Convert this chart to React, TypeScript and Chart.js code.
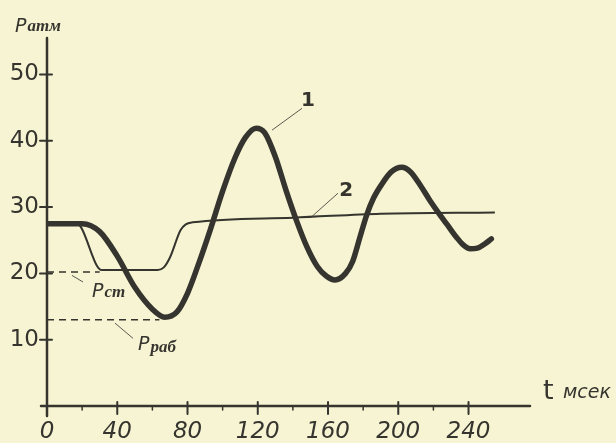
import React, { useEffect, useRef } from "react";
import { Chart, registerables } from "chart.js";

Chart.register(...registerables);

const INK = "#35342e";
const BG = "#f6f4d2";

// axis ticks
const xTicks = [0, 40, 80, 120, 160, 200, 240];
const xMinorTicks = [20, 60, 100, 140, 180, 220];
const yTicks = [10, 20, 30, 40, 50];

// curve 1 (thick) — t in ms, p in atm
const curve1T = [0, 20, 30, 40, 50, 60, 67, 74, 80, 86, 93, 100, 107, 113, 119, 124, 130, 136, 142, 148, 154, 159, 164, 170, 174, 178, 182, 186, 191, 196, 202, 207, 213, 218, 223, 228, 233, 237, 241, 245, 249, 253];
const curve1P = [27.5, 27.5, 26.3, 22.6, 17.9, 14.6, 13.4, 14.2, 17.0, 21.2, 26.6, 32.4, 37.4, 40.5, 41.9, 41.2, 37.6, 32.6, 28.0, 24.0, 21.0, 19.6, 19.0, 20.0, 21.8, 25.3, 28.8, 31.4, 33.6, 35.3, 36.0, 35.3, 33.1, 31.0, 29.1, 27.3, 25.5, 24.3, 23.7, 23.8, 24.4, 25.2];

// curve 2 (thin)
const curve2T = [0, 17, 19.5, 28.5, 31, 63, 66.5, 70, 76, 79, 83, 140, 190, 255];
const curve2P = [27.5, 27.5, 26.9, 21.1, 20.5, 20.5, 20.9, 22.4, 26.5, 27.4, 27.7, 28.4, 29.0, 29.2];

// reference levels (dashed)
const pStLevel = 20.2;
const pStEnd = 30;
const pRabLevel = 13.0;
const pRabEnd = 64;

const toPoints = (t: number[], p: number[]) => t.map((v, i) => ({ x: v, y: p[i] }));

const decorPlugin = {
  id: "decor",
  beforeDatasetsDraw(chart: any) {
    const { ctx, chartArea } = chart;
    const xs = chart.scales.x;
    const ys = chart.scales.y;
    const x0 = xs.getPixelForValue(0);
    const y0 = ys.getPixelForValue(0);
    ctx.save();
    ctx.strokeStyle = INK;
    ctx.lineCap = "round";
    ctx.lineWidth = 2.5;
    ctx.beginPath();
    ctx.moveTo(x0, chartArea.top);
    ctx.lineTo(x0, y0 + 10);
    ctx.moveTo(x0 - 6, y0);
    ctx.lineTo(chartArea.right, y0);
    ctx.stroke();
    ctx.lineWidth = 2;
    ctx.beginPath();
    yTicks.forEach((v) => {
      const py = ys.getPixelForValue(v);
      ctx.moveTo(x0 - 7, py);
      ctx.lineTo(x0 + 5, py);
    });
    xTicks.forEach((v) => {
      const px = xs.getPixelForValue(v);
      ctx.moveTo(px, y0 - 4);
      ctx.lineTo(px, y0 + 8);
    });
    ctx.stroke();
    ctx.lineWidth = 1.5;
    ctx.beginPath();
    xMinorTicks.forEach((v) => {
      const px = xs.getPixelForValue(v);
      ctx.moveTo(px, y0);
      ctx.lineTo(px, y0 + 4);
    });
    ctx.stroke();
    ctx.restore();
  },
  afterDatasetsDraw(chart: any) {
    const { ctx, chartArea } = chart;
    const xs = chart.scales.x;
    const ys = chart.scales.y;
    const X = (v: number) => xs.getPixelForValue(v);
    const Y = (v: number) => ys.getPixelForValue(v);
    ctx.save();
    ctx.strokeStyle = "#5a5950";
    ctx.lineWidth = 1;
    const leaders = [
      [128.1, 41.6, 145.2, 44.9],
      [150.9, 28.6, 165.7, 32.1],
      [14.2, 19.7, 20.5, 18.7],
      [38.7, 12.5, 49, 10.2],
    ];
    ctx.beginPath();
    leaders.forEach(([a, b, c, d]) => {
      ctx.moveTo(X(a), Y(b));
      ctx.lineTo(X(c), Y(d));
    });
    ctx.stroke();

    ctx.fillStyle = INK;
    const sub = (main: string, s: string, px: number, py: number, mainFont: string, subFont: string, dy = 0) => {
      ctx.font = mainFont;
      ctx.fillText(main, px, py);
      const w = ctx.measureText(main).width;
      ctx.font = subFont;
      ctx.fillText(s, px + w + 1, py + dy);
    };
    ctx.font = 'bold 20px "DejaVu Sans"';
    ctx.textAlign = "center";
    ctx.textBaseline = "middle";
    ctx.fillText("1", X(148.6), Y(46.0));
    ctx.fillText("2", X(170.3), Y(32.4));
    ctx.textAlign = "left";
    ctx.textBaseline = "alphabetic";
    sub("P", "ст", X(25.6), Y(16.4), 'italic 19px "DejaVu Sans"', 'italic bold 17px "Liberation Serif"');
    sub("P", "раб", X(51.8), Y(8.4), 'italic 19px "DejaVu Sans"', 'italic bold 17px "Liberation Serif"', 2);
    sub("P", "атм", chartArea.left - 32, chartArea.top - 6, 'italic 19px "DejaVu Sans"', 'italic bold 17px "Liberation Serif"', -1);
    ctx.font = '27px "DejaVu Sans"';
    ctx.fillText("t", chartArea.right + 13, Y(0) - 7);
    ctx.font = 'italic 19px "DejaVu Sans"';
    ctx.fillText("мсек", chartArea.right + 33, Y(0) - 8);
    ctx.restore();
  },
};

export default function App() {
  const ref = useRef<HTMLCanvasElement | null>(null);
  useEffect(() => {
    if (!ref.current) return;
    const chart = new Chart(ref.current, {
      type: "line",
      data: {
        datasets: [
          {
            data: toPoints(curve1T, curve1P),
            borderColor: INK,
            borderWidth: 5.5,
            pointRadius: 0,
            cubicInterpolationMode: "monotone",
            fill: false,
            borderCapStyle: "round",
            borderJoinStyle: "round",
          },
          {
            data: toPoints(curve2T, curve2P),
            borderColor: INK,
            borderWidth: 2,
            pointRadius: 0,
            cubicInterpolationMode: "monotone",
            fill: false,
          },
          {
            data: [
              { x: 0, y: pStLevel },
              { x: pStEnd, y: pStLevel },
            ],
            borderColor: INK,
            borderWidth: 1.6,
            borderDash: [7, 5],
            pointRadius: 0,
            tension: 0,
          },
          {
            data: [
              { x: 0, y: pRabLevel },
              { x: pRabEnd, y: pRabLevel },
            ],
            borderColor: INK,
            borderWidth: 1.6,
            borderDash: [7, 5],
            pointRadius: 0,
            tension: 0,
          },
        ],
      },
      options: {
        animation: false,
        responsive: false,
        layout: { padding: { top: 38, right: 86, left: 0, bottom: 0 } },
        plugins: { legend: { display: false }, tooltip: { enabled: false } },
        scales: {
          x: {
            type: "linear",
            min: 0,
            max: 275,
            grid: { display: false, drawTicks: false },
            border: { display: false },
            afterBuildTicks: (s: any) => {
              s.ticks = xTicks.map((value) => ({ value }));
            },
            afterFit: (s: any) => {
              s.height = 37;
            },
            ticks: {
              color: INK,
              padding: 12,
              maxRotation: 0,
              autoSkip: false,
              font: { family: "DejaVu Sans", size: 23, style: "italic" },
              callback: (v: any) => String(v),
            },
          },
          y: {
            type: "linear",
            min: 0,
            max: 55.5,
            grid: { display: false, drawTicks: false },
            border: { display: false },
            afterBuildTicks: (s: any) => {
              s.ticks = yTicks.map((value) => ({ value }));
            },
            afterFit: (s: any) => {
              s.width = 47;
            },
            ticks: {
              color: INK,
              padding: 8,
              autoSkip: false,
              font: { family: "DejaVu Sans", size: 23 },
              callback: (v: any) => String(v),
            },
          },
        },
      },
      plugins: [decorPlugin],
    } as any);
    return () => chart.destroy();
  }, []);
  return (
    <div style={{ position: "fixed", left: 0, top: 0, width: 616, height: 443, background: BG }}>
      <canvas ref={ref} width={616} height={443} style={{ display: "block" }} />
    </div>
  );
}
